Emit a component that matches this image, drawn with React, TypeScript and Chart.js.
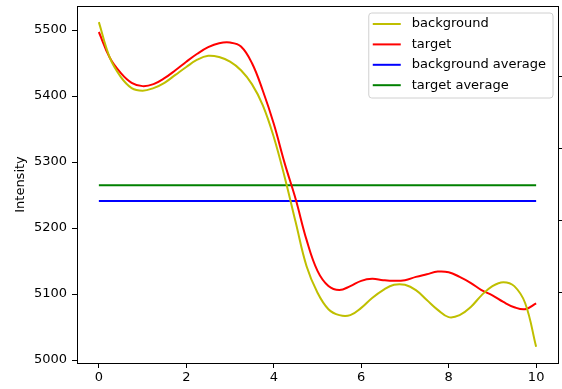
import React, { useEffect, useRef } from "react";
import { Chart, registerables } from "chart.js";

Chart.register(...registerables);

const xValues = [
  0, 0.25, 0.5, 0.75, 1, 1.25, 1.5, 1.75, 2, 2.25, 2.5, 2.75, 3, 3.25, 3.5, 3.75, 4, 4.25, 4.5, 4.75,
  5, 5.25, 5.5, 5.75, 6, 6.25, 6.5, 6.75, 7, 7.25, 7.5, 7.75, 8, 8.25, 8.5, 8.75, 9, 9.25, 9.5, 9.75, 10,
];

const background = [
  5512, 5458, 5429, 5412, 5408, 5412, 5420, 5432, 5444, 5455, 5461, 5459, 5452, 5439, 5418, 5386, 5338, 5277, 5209, 5142,
  5102, 5077, 5068, 5068, 5079, 5094, 5106, 5114, 5114, 5106, 5091, 5076, 5065, 5068, 5080, 5098, 5112, 5118, 5112, 5086, 5020,
];

const target = [
  5497, 5458, 5435, 5420, 5415, 5418, 5427, 5439, 5452, 5464, 5474, 5480, 5481, 5475, 5450, 5408, 5358, 5298, 5244, 5182,
  5135, 5112, 5106, 5112, 5120, 5123, 5121, 5120, 5121, 5126, 5130, 5134, 5133, 5126, 5117, 5106, 5098, 5088, 5080, 5077, 5086,
];

const backgroundAverage = 5241;
const targetAverage = 5265;
const avgRange = [0, 10];

const xTicks = [0, 2, 4, 6, 8, 10];
const yTicks = [5000, 5100, 5200, 5300, 5400, 5500];
const rightTicks = [1, 2, 3, 4];

const FONT = '"DejaVu Sans", sans-serif';

const frameAndLegend = {
  id: "frameAndLegend",
  afterDraw(chart: any) {
    const { ctx, chartArea } = chart;
    ctx.save();
    ctx.strokeStyle = "#000";
    ctx.lineWidth = 1;
    ctx.strokeRect(
      Math.round(chartArea.left) + 0.5,
      Math.round(chartArea.top) + 0.5,
      Math.round(chartArea.right - chartArea.left),
      Math.round(chartArea.bottom - chartArea.top)
    );
    const ds = chart.data.datasets;
    ctx.font = `13px ${FONT}`;
    const maxW = Math.max(...ds.map((d: any) => ctx.measureText(d.label).width));
    const padL = 4;
    const handle = 28;
    const gap = 11;
    const w = padL + handle + gap + maxW + 7;
    const h = 85;
    const x0 = chartArea.right - 5 - w;
    const y0 = chartArea.top + 7;
    const r = 3;
    ctx.beginPath();
    ctx.moveTo(x0 + r, y0);
    ctx.lineTo(x0 + w - r, y0);
    ctx.quadraticCurveTo(x0 + w, y0, x0 + w, y0 + r);
    ctx.lineTo(x0 + w, y0 + h - r);
    ctx.quadraticCurveTo(x0 + w, y0 + h, x0 + w - r, y0 + h);
    ctx.lineTo(x0 + r, y0 + h);
    ctx.quadraticCurveTo(x0, y0 + h, x0, y0 + h - r);
    ctx.lineTo(x0, y0 + r);
    ctx.quadraticCurveTo(x0, y0, x0 + r, y0);
    ctx.closePath();
    ctx.fillStyle = "rgba(255,255,255,0.8)";
    ctx.fill();
    ctx.strokeStyle = "#d0d0d0";
    ctx.lineWidth = 1;
    ctx.stroke();
    ds.forEach((d: any, i: number) => {
      const cy = y0 + 11 + i * 20.4;
      ctx.strokeStyle = d.borderColor;
      ctx.lineWidth = 2;
      ctx.beginPath();
      ctx.moveTo(x0 + padL, cy);
      ctx.lineTo(x0 + padL + handle, cy);
      ctx.stroke();
      ctx.fillStyle = "#000";
      ctx.textBaseline = "middle";
      ctx.textAlign = "left";
      ctx.fillText(d.label, x0 + padL + handle + gap, cy);
    });
    ctx.restore();
  },
};

const fmt = (v: any) => String(v);

export default function App() {
  const canvasRef = useRef<HTMLCanvasElement | null>(null);

  useEffect(() => {
    document.body.style.margin = "0";
    const canvas = canvasRef.current;
    if (!canvas) return;
    const pts = (ys: number[]) => xValues.map((x, i) => ({ x, y: ys[i] }));
    const avgPts = (v: number) => avgRange.map((x) => ({ x, y: v }));
    const vFit = (w: number) => (s: any) => {
      s.width = w;
      s.paddingTop = 0;
      s.paddingBottom = 0;
    };
    const chart = new Chart(canvas, {
      type: "line",
      data: {
        datasets: [
          { label: "background", data: pts(background), borderColor: "#bfbf00", borderWidth: 2, pointRadius: 0, tension: 0.4, fill: false },
          { label: "target", data: pts(target), borderColor: "#ff0000", borderWidth: 2, pointRadius: 0, tension: 0.4, fill: false },
          { label: "background average", data: avgPts(backgroundAverage), borderColor: "#0000ff", borderWidth: 2, pointRadius: 0, fill: false },
          { label: "target average", data: avgPts(targetAverage), borderColor: "#008000", borderWidth: 2, pointRadius: 0, fill: false },
        ],
      },
      options: {
        animation: false,
        responsive: false,
        maintainAspectRatio: false,
        layout: { padding: { top: 6, left: 0, right: 0, bottom: 0 } },
        plugins: { legend: { display: false }, tooltip: { enabled: false } },
        scales: {
          x: {
            type: "linear",
            min: -0.5,
            max: 10.5,
            afterBuildTicks: (s: any) => { s.ticks = xTicks.map((v) => ({ value: v })); },
            afterFit: (s: any) => { s.height = 26; s.paddingLeft = 0; s.paddingRight = 0; },
            border: { display: false },
            grid: { drawOnChartArea: false, drawTicks: true, tickLength: 5, color: "#000", tickColor: "#000" },
            ticks: { color: "#000", font: { family: FONT, size: 13 }, padding: 2, maxRotation: 0, autoSkip: false, callback: fmt },
          },
          y: {
            type: "linear",
            position: "left",
            min: 4995.5,
            max: 5536.4,
            afterBuildTicks: (s: any) => { s.ticks = yTicks.map((v) => ({ value: v })); },
            afterFit: vFit(77),
            border: { display: false },
            grid: { drawOnChartArea: false, drawTicks: true, tickLength: 5, color: "#000", tickColor: "#000" },
            ticks: { color: "#000", font: { family: FONT, size: 13 }, padding: 5, autoSkip: false, callback: fmt },
            title: { display: true, text: "Intensity", color: "#000", font: { family: FONT, size: 13 }, padding: { top: 13, bottom: 0 } },
          },
          y2: {
            type: "linear",
            position: "right",
            min: 0.014,
            max: 4.986,
            afterBuildTicks: (s: any) => { s.ticks = rightTicks.map((v) => ({ value: v })); },
            afterFit: vFit(4),
            border: { display: false },
            grid: { drawOnChartArea: false, drawTicks: true, tickLength: 5, color: "#000", tickColor: "#000" },
            ticks: { display: false },
          },
        },
      },
      plugins: [frameAndLegend],
    } as any);
    return () => chart.destroy();
  }, []);

  return (
    <div style={{ width: 562, height: 389 }}>
      <canvas ref={canvasRef} width={562} height={389} style={{ display: "block" }} />
    </div>
  );
}
